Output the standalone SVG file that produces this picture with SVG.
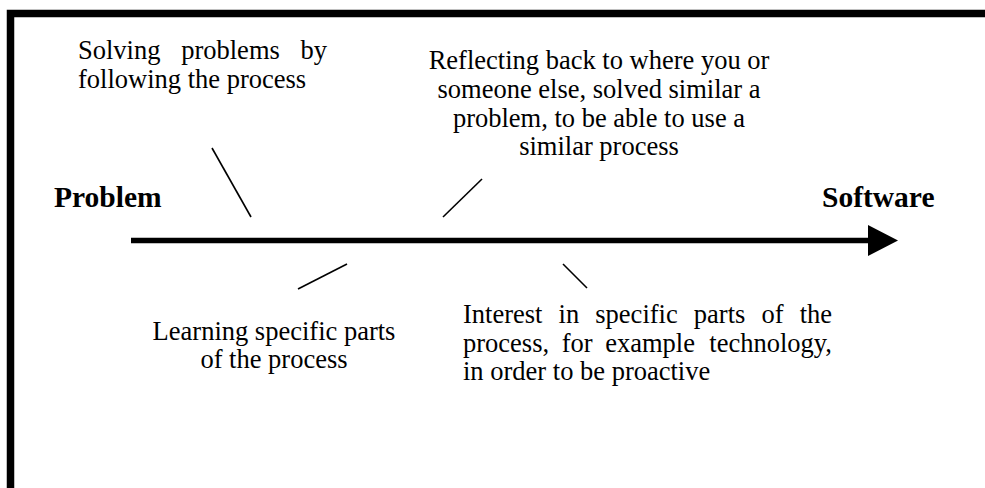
<svg xmlns="http://www.w3.org/2000/svg" width="985" height="488" viewBox="0 0 985 488">
  <style>
    .t { font-family: "Liberation Serif", "Times New Roman", serif; font-size: 26.5px; fill: #000; }
    .b { font-family: "Liberation Serif", "Times New Roman", serif; font-size: 29.5px; font-weight: bold; fill: #000; }
    .c { text-anchor: middle; }
    .e { text-anchor: end; }
    .ln { stroke: #000; stroke-width: 1.6; fill: none; }
  </style>
  <defs>
    <marker id="head" markerUnits="userSpaceOnUse" markerWidth="32" markerHeight="32" refX="0" refY="15.5" orient="auto">
      <polygon points="0,0 30,15.5 0,31" fill="#000"/>
    </marker>
  </defs>
  <rect x="0" y="0" width="985" height="488" fill="#fff"/>
  <g id="frame">
    <rect x="10.5" y="13.5" width="1000" height="500" fill="none" stroke="#000" stroke-width="7.5"/>
  </g>

  <g id="connectors">
    <line x1="131" y1="240.5" x2="868" y2="240.5" stroke="#000" stroke-width="5.5" marker-end="url(#head)"/>
    <line class="ln" x1="212" y1="148" x2="251" y2="217"/>
    <line class="ln" x1="443" y1="217" x2="482" y2="179"/>
    <line class="ln" x1="298" y1="289" x2="347" y2="264"/>
    <line class="ln" x1="563" y1="264" x2="587" y2="288"/>
  </g>

  <g id="problem">
    <text class="b" x="54" y="207">Problem</text>
  </g>
  <g id="software">
    <text class="b" x="822" y="207">Software</text>
  </g>

  <g id="solving">
    <text class="t" y="59"><tspan x="78">Solving</tspan><tspan x="181.2">problems</tspan></text>
    <text class="t e" x="327" y="59">by</text>
    <text class="t" x="78" y="88">following the process</text>
  </g>

  <g id="reflecting">
    <text class="t c" x="599" y="69">Reflecting back to where you or</text>
    <text class="t c" x="599" y="98">someone else, solved similar a</text>
    <text class="t c" x="599" y="127">problem, to be able to use a</text>
    <text class="t c" x="599" y="155">similar process</text>
  </g>

  <g id="learning">
    <text class="t c" x="274" y="340">Learning specific parts</text>
    <text class="t c" x="274" y="368">of the process</text>
  </g>

  <g id="interest">
    <text class="t" y="323"><tspan x="463">Interest</tspan><tspan x="558.6">in</tspan><tspan x="595.3">specific</tspan><tspan x="693.8">parts</tspan><tspan x="761.4">of</tspan></text>
    <text class="t e" x="832" y="323">the</text>
    <text class="t" y="352"><tspan x="463">process,</tspan><tspan x="561.7">for</tspan><tspan x="605.2">example</tspan></text>
    <text class="t e" x="832" y="352">technology,</text>
    <text class="t" x="463" y="380">in order to be proactive</text>
  </g>
</svg>
